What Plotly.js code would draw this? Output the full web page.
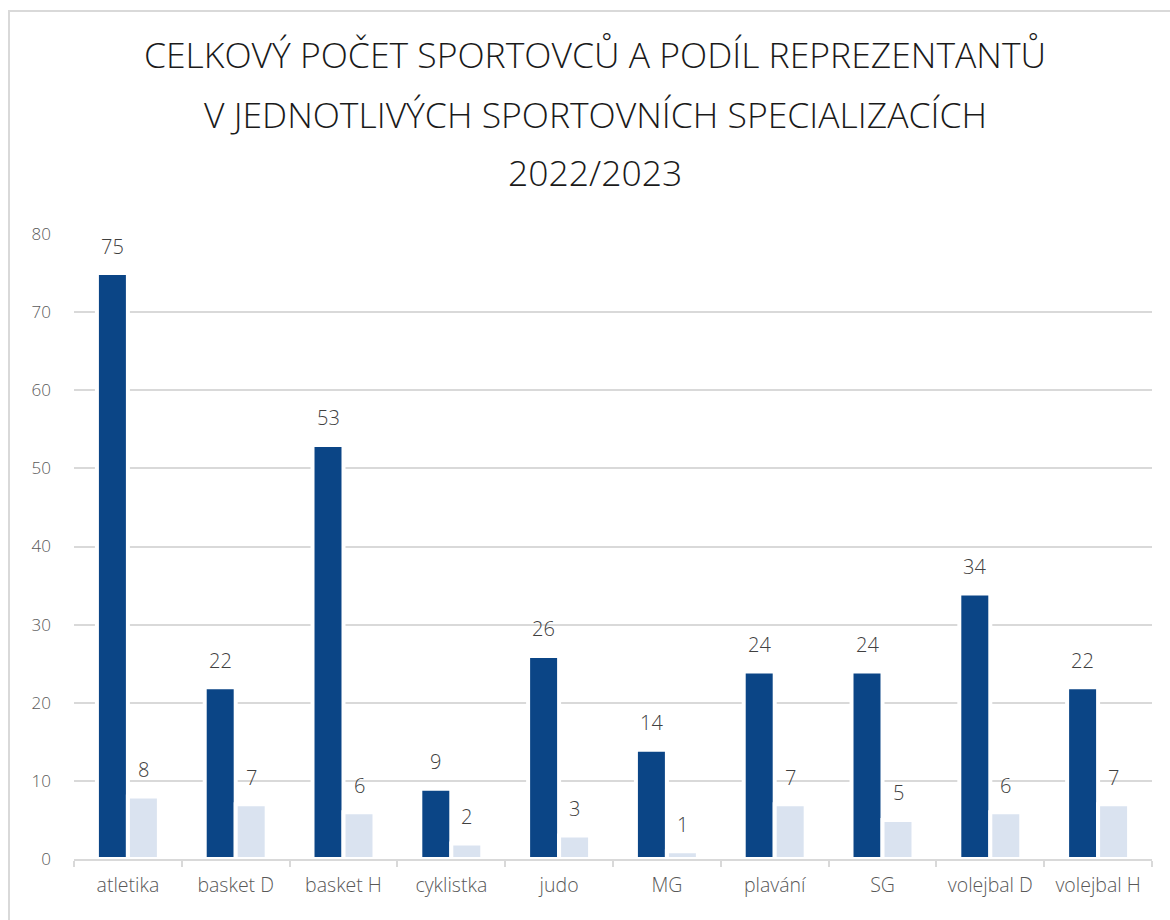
<!DOCTYPE html>
<html>
<head>
<meta charset="utf-8">
<script src="https://cdn.plot.ly/plotly-3.0.1.min.js"></script>
<style>
  html, body { margin: 0; padding: 0; background: #ffffff; }
  #chart { width: 1170px; height: 920px; }
  #frame { position: absolute; left: 8px; top: 10px; width: 1200px; height: 960px;
           border-left: 2px solid #d9d9d9; border-top: 2px solid #d9d9d9; pointer-events: none; }
</style>
</head>
<body>
<div id="chart"></div>
<div id="frame"></div>
<script>
const categories = ["atletika", "basket D", "basket H", "cyklistka", "judo", "MG", "plavání", "SG", "volejbal D", "volejbal H"];
const totalAthletes = [75, 22, 53, 9, 26, 14, 24, 24, 34, 22];
const representatives = [8, 7, 6, 2, 3, 1, 7, 5, 6, 7];
const yTicks = [0, 10, 20, 30, 40, 50, 60, 70, 80];
const titleLines = ["CELKOVÝ POČET SPORTOVCŮ A PODÍL REPREZENTANTŮ", "V JEDNOTLIVÝCH SPORTOVNÍCH SPECIALIZACÍCH", "2022/2023"];

const FONT = "'Open Sans', 'Segoe UI', sans-serif";
const darkBlue = "#0b4586";
const lightBlue = "#dae3f0";
const titleFont = { family: FONT, size: 35.5, color: "#1a1a1a", weight: 300 };

const traces = [
  { type: "bar", name: "celkový počet sportovců", x: categories, y: totalAthletes,
    marker: { color: darkBlue, line: { color: "#ffffff", width: 4 } }, hoverinfo: "x+y" },
  { type: "bar", name: "reprezentanti", x: categories, y: representatives,
    marker: { color: lightBlue, line: { color: "#ffffff", width: 4 } }, hoverinfo: "x+y" }
];

const annotations = [];
categories.forEach((c, i) => {
  annotations.push({ x: c, y: totalAthletes[i], xref: "x", yref: "y", text: String(totalAthletes[i]),
    showarrow: false, xshift: -15.5, yshift: 27, yanchor: "middle",
    font: { family: FONT, size: 20, color: "#404040", weight: 300 } });
  annotations.push({ x: c, y: representatives[i], xref: "x", yref: "y", text: String(representatives[i]),
    showarrow: false, xshift: 15.5, yshift: 27, yanchor: "middle",
    font: { family: FONT, size: 20, color: "#404040", weight: 300 } });
});
// title lines 2 and 3
const titleX = (595 - 74) / 1078;
annotations.push({ xref: "paper", yref: "paper", x: titleX, y: (859.5 - 113) / 626, text: titleLines[1],
  showarrow: false, xanchor: "center", yanchor: "middle", font: titleFont });
annotations.push({ xref: "paper", yref: "paper", x: titleX, y: (859.5 - 171) / 626, text: titleLines[2],
  showarrow: false, xanchor: "center", yanchor: "middle", font: titleFont });

const layout = {
  width: 1170, height: 920,
  paper_bgcolor: "#ffffff", plot_bgcolor: "#ffffff",
  margin: { l: 74, r: 18, t: 233.5, b: 60.5 },
  showlegend: false,
  barmode: "group", bargap: 0.425, bargroupgap: 0,
  title: { text: titleLines[0], x: 595 / 1170, xref: "container", xanchor: "center", y: 1 - 56 / 920, yanchor: "middle",
    font: titleFont },
  xaxis: {
    type: "category", showline: true, linecolor: "#d9d9d9", linewidth: 2,
    ticks: "outside", tickson: "boundaries", ticklen: 6, tickcolor: "#d9d9d9", tickwidth: 2,
    ticklabelstandoff: 8,
    showgrid: false, zeroline: false,
    tickfont: { family: FONT, size: 19.5, color: "#595959", weight: 300 }
  },
  yaxis: {
    range: [0, 80], tickvals: yTicks, ticktext: yTicks.map(String),
    showgrid: true, gridcolor: "#d9d9d9", gridwidth: 2,
    zeroline: false, showline: false, ticks: "", ticklabelstandoff: 22,
    tickfont: { family: FONT, size: 17, color: "#595959", weight: 300 }
  },
  annotations: annotations
};

Plotly.newPlot("chart", traces, layout, { displayModeBar: false, staticPlot: true });
</script>
</body>
</html>
